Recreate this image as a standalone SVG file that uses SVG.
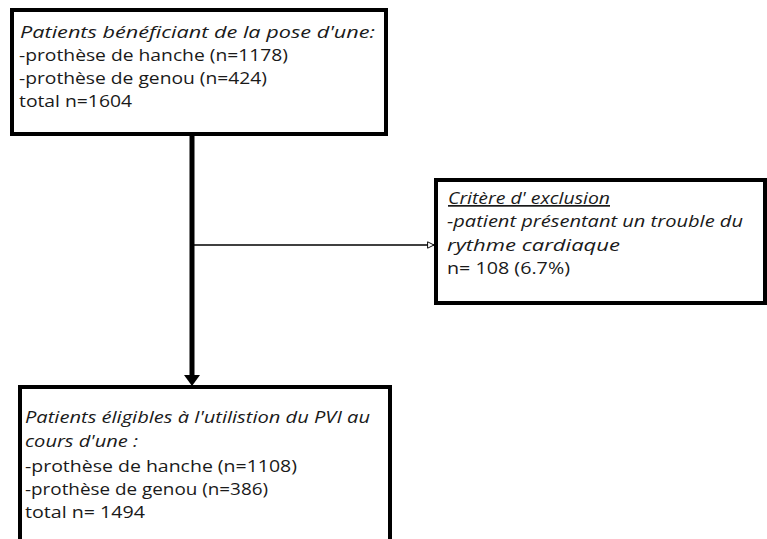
<svg xmlns="http://www.w3.org/2000/svg" width="767" height="539" viewBox="0 0 767 539">
<defs>
<style>
.box{fill:#fff;stroke:#000;stroke-width:4}
text{font-family:"Open Sans","Noto Sans",sans-serif;font-size:17px;fill:#1a1a1a}
.it{font-style:italic}
.ul{text-decoration:underline}
</style>
<marker id="open" viewBox="0 0 10 10" refX="9" refY="5" markerWidth="8" markerHeight="8" markerUnits="userSpaceOnUse" orient="auto">
<path d="M1,1 L9,5 L1,9 Z" fill="#fff" stroke="#000" stroke-width="1.2"/>
</marker>
</defs>
<rect width="767" height="539" fill="#fff"/>
<g id="connectors">
<line x1="192" y1="136" x2="192" y2="376" stroke="#000" stroke-width="5"/>
<path d="M184,375 L200,375 L192,386 Z" fill="#000"/>
<line x1="192" y1="245" x2="434" y2="245" stroke="#000" stroke-width="1.3" marker-end="url(#open)"/>
</g>
<g id="top">
<rect class="box" x="12" y="10" width="374" height="124"/>
<text x="20" y="38" class="it" textLength="355" lengthAdjust="spacingAndGlyphs">Patients bénéficiant de la pose d'une:</text>
<text x="19" y="61" textLength="269" lengthAdjust="spacingAndGlyphs">-prothèse de hanche (n=1178)</text>
<text x="19" y="84" textLength="248" lengthAdjust="spacingAndGlyphs">-prothèse de genou (n=424)</text>
<text x="19" y="107" textLength="113" lengthAdjust="spacingAndGlyphs">total n=1604</text>
</g>
<g id="exclusion">
<rect class="box" x="436" y="180" width="329" height="123"/>
<text x="448" y="204" class="it ul" textLength="162" lengthAdjust="spacingAndGlyphs">Critère d' exclusion</text>
<text x="447" y="227" class="it" textLength="296" lengthAdjust="spacingAndGlyphs">-patient présentant un trouble du</text>
<text x="447" y="251" class="it" textLength="173" lengthAdjust="spacingAndGlyphs">rythme cardiaque</text>
<text x="447" y="274" textLength="123" lengthAdjust="spacingAndGlyphs">n= 108 (6.7%)</text>
</g>
<g id="eligible">
<rect class="box" x="20" y="387" width="370" height="160"/>
<text x="25" y="423" class="it" textLength="345" lengthAdjust="spacingAndGlyphs">Patients éligibles à l'utilistion du PVI au</text>
<text x="25" y="447" class="it" textLength="113" lengthAdjust="spacingAndGlyphs">cours d'une :</text>
<text x="25" y="472" textLength="272" lengthAdjust="spacingAndGlyphs">-prothèse de hanche (n=1108)</text>
<text x="25" y="495" textLength="243" lengthAdjust="spacingAndGlyphs">-prothèse de genou (n=386)</text>
<text x="25" y="518" textLength="120" lengthAdjust="spacingAndGlyphs">total n= 1494</text>
</g>
</svg>
